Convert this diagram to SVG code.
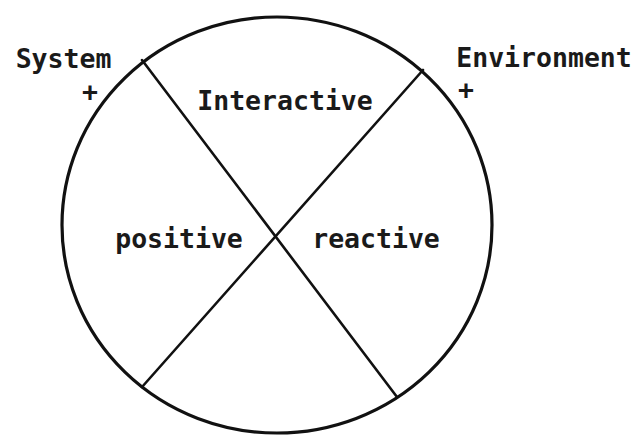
<svg xmlns="http://www.w3.org/2000/svg" width="639" height="436" viewBox="0 0 639 436">
<style>
.t{font-family:"DejaVu Sans Mono","Liberation Mono",monospace;font-size:26.5px;font-weight:bold;fill:#1a1a1a;text-anchor:middle}
.s{fill:none;stroke:#111;stroke-linecap:round}
</style>
<rect width="639" height="436" fill="#fff"/>
<g id="circle">
<ellipse class="s" cx="277" cy="225" rx="215" ry="208" stroke-width="3.2"/>
</g>
<g id="connectors">
<line class="s" x1="142" y1="60" x2="397" y2="397" stroke-width="2.6"/>
<line class="s" x1="423" y1="70" x2="142" y2="387" stroke-width="2.6"/>
</g>
<g id="system"><text class="t" x="63.5" y="68">System</text><text class="t" x="90" y="101">+</text></g>
<g id="environment"><text class="t" x="544" y="67">Environment</text><text class="t" x="466" y="99">+</text></g>
<g id="interactive"><text class="t" x="285" y="110">Interactive</text></g>
<g id="positive"><text class="t" x="179" y="248">positive</text></g>
<g id="reactive"><text class="t" x="376" y="248">reactive</text></g>
</svg>
